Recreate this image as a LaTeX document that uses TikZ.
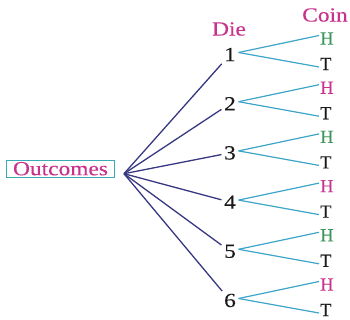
\documentclass[tikz,border=0pt]{standalone}
\usepackage{fontspec}
\setmainfont{Liberation Serif}[FakeBold=0.2]
\newfontfamily\widefont[FakeStretch=1.17,FakeBold=0.2]{Liberation Serif}
\definecolor{mag}{RGB}{200,50,140}
\definecolor{hgreen}{RGB}{60,150,90}
\definecolor{boxcol}{RGB}{60,170,180}
\definecolor{darkl}{RGB}{55,55,130}
\definecolor{cyanl}{RGB}{60,165,200}
\definecolor{txt}{RGB}{25,25,25}
\begin{document}
\begin{tikzpicture}[x=1pt,y=-1pt,
  wide/.style={font=\widefont\fontsize{20}{22}\selectfont},
  hdr/.style={wide,text=mag,inner sep=1pt},
  outbox/.style={wide,text=mag,draw=boxcol,line width=1.1pt,inner xsep=6.5pt,inner ysep=1.7pt},
  dig/.style={wide,text=txt,inner sep=2.5pt},
  coinlbl/.style={font=\fontsize{18.5}{20}\selectfont,inner sep=1pt,anchor=west},
  darkline/.style={draw=darkl,line width=1.3pt},
  cyanline/.style={draw=cyanl,line width=1.2pt}]
\useasboundingbox (0,0) rectangle (350,320);
\node[outbox] (out) at (60.5,168.7) {Outcomes};
\coordinate (hub) at ([shift={(9pt,-5pt)}]out.east);
\node[hdr] (die) at (229,29) {Die};
\node[hdr] (coin) at (325,15) {Coin};
\foreach \i/\hc in {1/hgreen,2/mag,3/hgreen,4/mag,5/hgreen,6/mag} {
  \pgfmathsetmacro\dy{54.5+49.2*(\i-1)}
  \node[dig] (d\i) at (230,\dy) {\i};
  \node[coinlbl,text=\hc] (h\i) at (319,\dy-16) {H};
  \node[coinlbl,text=txt] (t\i) at (319,\dy+9.5) {T};
  \draw[darkline] (hub) -- (d\i);
  \draw[cyanline] ([yshift=2pt]d\i.east) -- ([yshift=3pt]h\i.west);
  \draw[cyanline] ([yshift=2pt]d\i.east) -- ([yshift=-3pt]t\i.west);
}
\end{tikzpicture}
\end{document}
